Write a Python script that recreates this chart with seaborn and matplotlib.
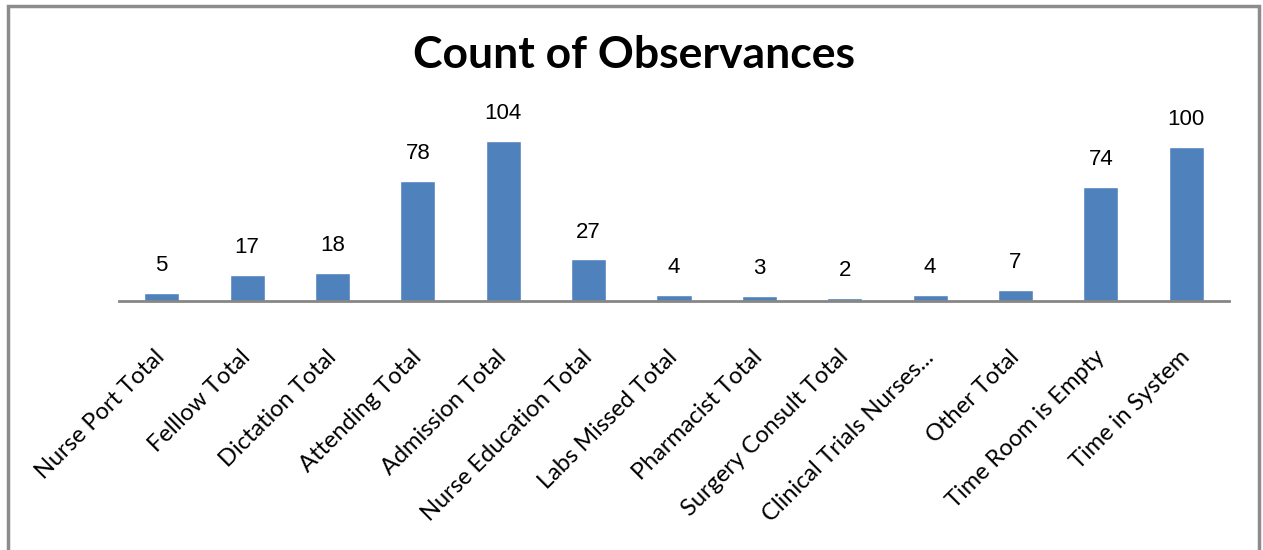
import seaborn as sns
import matplotlib.pyplot as plt
import matplotlib.patches as patches
import pandas as pd

# Data
categories = ["Nurse Port Total", "Fellow Total", "Dictation Total", "Attending Total",
              "Admission Total", "Nurse Education Total", "Labs Missed Total",
              "Pharmacist Total", "Surgery Consult Total", "Clinical Trials Nurses...",
              "Other Total", "Time Room is Empty", "Time in System"]
tick_labels = ["Nurse Port Total", "Felllow Total", "Dictation Total", "Attending Total",
               "Admission Total", "Nurse Education Total", "Labs Missed Total",
               "Pharmacist Total", "Surgery Consult Total", "Clinical Trials Nurses...",
               "Other Total", "Time Room is Empty", "Time in System"]
counts = [5, 17, 18, 78, 104, 27, 4, 3, 2, 4, 7, 74, 100]

df = pd.DataFrame({"Category": categories, "Count": counts})

sns.set_theme(style="white")
plt.rcParams['font.family'] = ["Lato", "DejaVu Sans"]

fig = plt.figure(figsize=(12.63, 5.5), dpi=100)
ax = fig.add_axes([0.0942, 0.4527, 0.8789, 0.3357])

g = sns.barplot(data=df, x="Category", y="Count", color="#4F81BD",
                saturation=1, width=0.41, ax=ax)
g.set_xlabel('')
g.set_ylabel('')
g.set_ylim(0, 120)
g.set_xlim(-0.5, len(categories) - 0.5)
g.set_yticks([])

sns.despine(ax=g, left=True, top=True, right=True)
g.spines['bottom'].set_color('#868686')
g.spines['bottom'].set_linewidth(2)

# rotated labels
g.set_xticks(range(len(tick_labels)))
g.set_xticklabels(tick_labels, rotation=45, ha='right', va='center',
                  rotation_mode='anchor', fontsize=17, color='black')
g.tick_params(axis='x', length=0, pad=38)

# value labels
for i, v in enumerate(counts):
    g.text(i, v + 11, str(v), ha='center', va='bottom', fontsize=16, color='black',
           family=["Liberation Sans Narrow", "Liberation Sans", "DejaVu Sans"])

fig.text(0.502, 0.90, "Count of Observances", ha='center', va='center',
         fontsize=32, fontweight='bold', color='black')

# chart border
border = patches.Rectangle((8 / 1263, -0.05), (1259 - 8) / 1263, (550 - 6) / 550 + 0.05,
                           transform=fig.transFigure, fill=False,
                           edgecolor='#8c8c8c', linewidth=2.5)
fig.patches.append(border)

fig.savefig('out.png', dpi=100)
